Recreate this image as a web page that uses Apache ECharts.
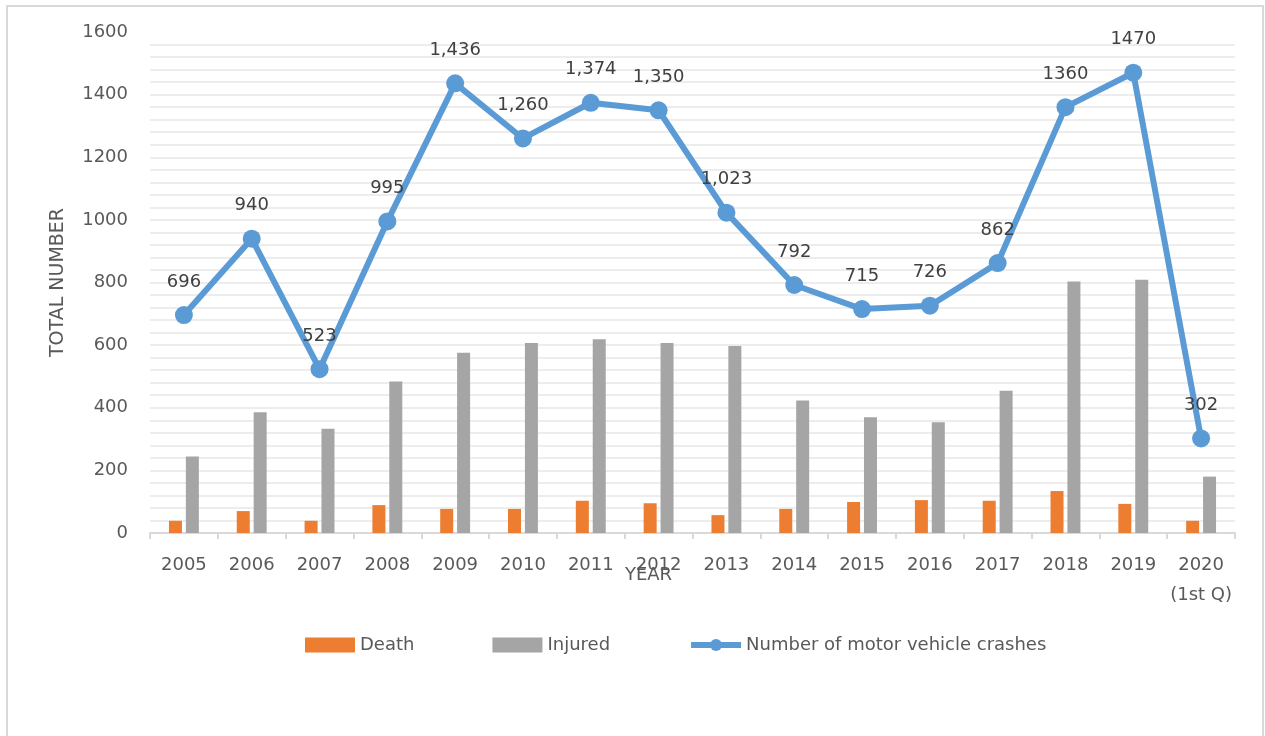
<!DOCTYPE html>
<html>
<head>
<meta charset="utf-8">
<script src="https://cdn.jsdelivr.net/npm/echarts@6/dist/echarts.min.js"></script>
<style>html,body{margin:0;padding:0;background:#fff;}#c{width:1265px;height:736px;}</style>
</head>
<body>
<div id="c"></div>
<script>
const years = ['2005','2006','2007','2008','2009','2010','2011','2012','2013','2014','2015','2016','2017','2018','2019','2020\n(1st Q)'];
const death = [39, 70, 39, 89, 77, 77, 103, 95, 57, 77, 99, 105, 103, 134, 93, 39];
const injured = [244, 386, 333, 484, 576, 607, 619, 607, 597, 423, 370, 354, 454, 803, 809, 180];
const crashes = [696, 940, 523, 995, 1436, 1260, 1374, 1350, 1023, 792, 715, 726, 862, 1360, 1470, 302];
const crashLabels = ['696','940','523','995','1,436','1,260','1,374','1,350','1,023','792','715','726','862','1360','1470','302'];
const yTicks = [0, 200, 400, 600, 800, 1000, 1200, 1400, 1600];

const FONT = 'DejaVu Sans';
const chart = echarts.init(document.getElementById('c'), null, {renderer: 'canvas'});
chart.setOption({
  backgroundColor: '#ffffff',
  animation: false,
  textStyle: {fontFamily: FONT},
  graphic: [{
    type: 'rect', silent: true,
    shape: {x: 7, y: 6, width: 1256, height: 740},
    style: {fill: 'none', stroke: '#d9d9d9', lineWidth: 2}
  }],
  grid: {left: 150, right: 30, top: 32, bottom: 203, containLabel: false},
  legend: {
    top: 631, left: 300,
    itemWidth: 50, itemHeight: 15, itemGap: 78,
    textStyle: {fontFamily: FONT, fontSize: 18, color: '#595959'},
    data: [
      {name: 'Death', icon: 'rect'},
      {name: 'Injured', icon: 'rect'},
      {name: 'Number of motor vehicle crashes', lineStyle: {width: 6, color: '#5b9bd5'}}
    ]
  },
  xAxis: {
    type: 'category', data: years,
    name: 'YEAR', nameLocation: 'middle', nameGap: 33, nameMoveOverlap: false,
    nameTextStyle: {fontFamily: FONT, fontSize: 18, color: '#595959', padding: [0, 88, 0, 0]},
    axisLine: {show: true, lineStyle: {color: '#d9d9d9', width: 2}},
    axisTick: {show: true, length: 6, lineStyle: {color: '#d9d9d9', width: 2}},
    axisLabel: {interval: 0, fontFamily: FONT, fontSize: 18, color: '#595959', margin: 17, lineHeight: 30, verticalAlign: 'top'},
    splitLine: {show: false}
  },
  yAxis: {
    type: 'value', min: yTicks[0], max: yTicks[yTicks.length-1], interval: 200,
    name: 'TOTAL NUMBER', nameLocation: 'middle', nameGap: 82, nameMoveOverlap: false,
    nameTextStyle: {fontFamily: FONT, fontSize: 19, color: '#595959'},
    axisLine: {show: false}, axisTick: {show: false},
    axisLabel: {fontFamily: FONT, fontSize: 18, color: '#595959', margin: 22, formatter: v => String(v)},
    splitLine: {show: true, showMaxLine: false, lineStyle: {color: '#ededed', width: 2}},
    minorTick: {show: false, splitNumber: 5},
    minorSplitLine: {show: true, lineStyle: {color: '#ededed', width: 2}}
  },
  series: [
    {
      name: 'Death', type: 'bar', data: death,
      itemStyle: {color: '#ed7d31'},
      barWidth: 13, barGap: '30%', z: 2
    },
    {
      name: 'Injured', type: 'bar', data: injured,
      itemStyle: {color: '#a5a5a5'},
      barWidth: 13, barGap: '30%', z: 2
    },
    {
      name: 'Number of motor vehicle crashes', type: 'line', data: crashes,
      symbol: 'circle', symbolSize: 18,
      lineStyle: {color: '#5b9bd5', width: 6},
      itemStyle: {color: '#5b9bd5'},
      z: 5,
      label: {
        show: true, position: 'top', distance: 15,
        fontFamily: FONT, fontSize: 18, color: '#404040',
        formatter: p => crashLabels[p.dataIndex]
      }
    }
  ]
});
</script>
</body>
</html>
